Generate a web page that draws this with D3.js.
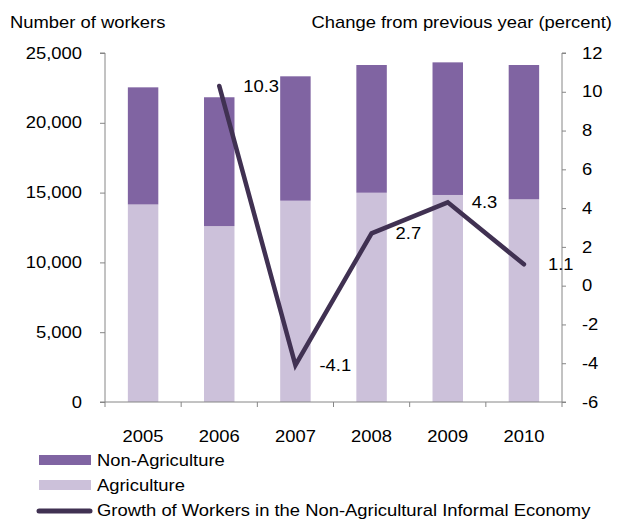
<!DOCTYPE html>
<html>
<head>
<meta charset="utf-8">
<script src="https://cdn.jsdelivr.net/npm/d3@7/dist/d3.min.js"></script>
<style>
  html, body { margin: 0; padding: 0; background: #fff; }
  svg { display: block; font-family: "Liberation Sans", Arial, sans-serif; }
</style>
</head>
<body>
<svg id="chart" width="621" height="520"></svg>
<script>
// Informal economy workers by sector, with year-on-year growth of the non-agricultural part
const years = ["2005", "2006", "2007", "2008", "2009", "2010"];
const agriculture = [14150, 12600, 14420, 14990, 14830, 14520];
const nonAgriculture = [8390, 9230, 8910, 9150, 9500, 9620];
const growthYears = ["2006", "2007", "2008", "2009", "2010"];
const growth = [10.3, -4.1, 2.7, 4.3, 1.1];
const leftTicks = [0, 5000, 10000, 15000, 20000, 25000];
const rightTicks = [-6, -4, -2, 0, 2, 4, 6, 8, 10, 12];

const colNonAgri = "#8064a2";
const colAgri = "#ccc1da";
const colLine = "#403152";
const colAxis = "#868686";
const textWiden = 1.15;   // slightly wide lettering

const svg = d3.select("#chart");
const plotLeft = 105, plotRight = 562, plotTop = 53, plotBottom = 402;

// widen text horizontally around its anchor point
function widen(sel) {
  sel.each(function () {
    const t = d3.select(this);
    const tx = +t.attr("x") || 0, ty = +t.attr("y") || 0;
    t.attr("x", 0).attr("y", 0)
      .attr("transform", `translate(${tx},${ty}) scale(${textWiden},1)`);
  });
}

const x = d3.scaleBand().domain(years).range([plotLeft, plotRight]).paddingInner(0.6).paddingOuter(0.3);
const band = d3.scaleBand().domain(years).range([plotLeft, plotRight]);
const yL = d3.scaleLinear().domain([0, 25000]).range([plotBottom, plotTop]);
const yR = d3.scaleLinear().domain([-6, 12]).range([plotBottom, plotTop]);

// stacked bars
const rows = years.map((y, i) => ({ year: y, Agriculture: agriculture[i], NonAgriculture: nonAgriculture[i] }));
const stack = d3.stack().keys(["Agriculture", "NonAgriculture"])(rows);
const colors = { Agriculture: colAgri, NonAgriculture: colNonAgri };
svg.append("g").selectAll("g").data(stack).join("g")
  .attr("fill", d => colors[d.key])
  .selectAll("rect").data(d => d).join("rect")
  .attr("x", d => x(d.data.year))
  .attr("width", x.bandwidth())
  .attr("y", d => yL(d[1]))
  .attr("height", d => yL(d[0]) - yL(d[1]));

// axes
const fmt = d3.format(",");
const axL = svg.append("g").attr("transform", `translate(${plotLeft},0)`)
  .call(d3.axisLeft(yL).tickValues(leftTicks).tickFormat(fmt).tickSize(5).tickPadding(18));
const axR = svg.append("g").attr("transform", `translate(${plotRight},0)`)
  .call(d3.axisRight(yR).tickValues(rightTicks).tickFormat(d => String(d)).tickSize(4).tickPadding(16));
// category axis: ticks at band boundaries, labels at band centres
const axB = svg.append("g").attr("transform", `translate(0,${plotBottom})`);
axB.append("line").attr("x1", plotLeft).attr("x2", plotRight).attr("stroke", colAxis);
const bounds = years.map(y => band(y)).concat([plotRight]);
axB.selectAll("line.t").data(bounds).join("line").attr("class", "t")
  .attr("x1", d => d).attr("x2", d => d).attr("y1", 0).attr("y2", 5).attr("stroke", colAxis);
axB.selectAll("text").data(years).join("text")
  .attr("x", d => band(d) + band.bandwidth() / 2).attr("y", 40)
  .attr("text-anchor", "middle").attr("font-size", 16).attr("fill", "#000").text(d => d);

[axL, axR].forEach(g => {
  g.select(".domain").attr("stroke", colAxis);
  g.selectAll(".tick line").attr("stroke", colAxis);
  g.selectAll(".tick text").attr("font-size", 16).attr("fill", "#000")
    .attr("font-family", "Liberation Sans, Arial, sans-serif");
});
axL.select(".domain").attr("d", `M-5,${plotTop}H0V${plotBottom}H-5`);
axR.select(".domain").attr("d", `M4,${plotTop}H0V${plotBottom}H4`);

// growth line
const cx = y => band(y) + band.bandwidth() / 2;
const pts = growthYears.map((y, i) => [cx(y), yR(growth[i])]);
svg.append("path").attr("d", d3.line()(pts))
  .attr("fill", "none").attr("stroke", colLine).attr("stroke-width", 4.5)
  .attr("stroke-linecap", "round").attr("stroke-linejoin", "miter");
svg.append("g").selectAll("text").data(growthYears).join("text")
  .attr("x", (d, i) => cx(d) + 24).attr("y", (d, i) => yR(growth[i]) + 6)
  .attr("font-size", 16).attr("fill", "#000").text((d, i) => growth[i].toFixed(1));

// axis titles
svg.append("text").attr("x", 10).attr("y", 28).attr("font-size", 16).text("Number of workers");
svg.append("text").attr("x", 612).attr("y", 28).attr("text-anchor", "end").attr("font-size", 16)
  .text("Change from previous year (percent)");

// legend
const legend = svg.append("g");
legend.append("rect").attr("x", 39).attr("y", 455).attr("width", 52).attr("height", 10).attr("fill", colNonAgri);
legend.append("text").attr("x", 97).attr("y", 466).attr("font-size", 16).text("Non-Agriculture");
legend.append("rect").attr("x", 39).attr("y", 480).attr("width", 52).attr("height", 10).attr("fill", colAgri);
legend.append("text").attr("x", 97).attr("y", 491).attr("font-size", 16).text("Agriculture");
legend.append("line").attr("x1", 39).attr("x2", 90).attr("y1", 511).attr("y2", 511)
  .attr("stroke", colLine).attr("stroke-width", 5).attr("stroke-linecap", "round");
legend.append("text").attr("x", 97).attr("y", 516).attr("font-size", 16)
  .text("Growth of Workers in the Non-Agricultural Informal Economy");

widen(svg.selectAll("text"));
</script>
</body>
</html>
